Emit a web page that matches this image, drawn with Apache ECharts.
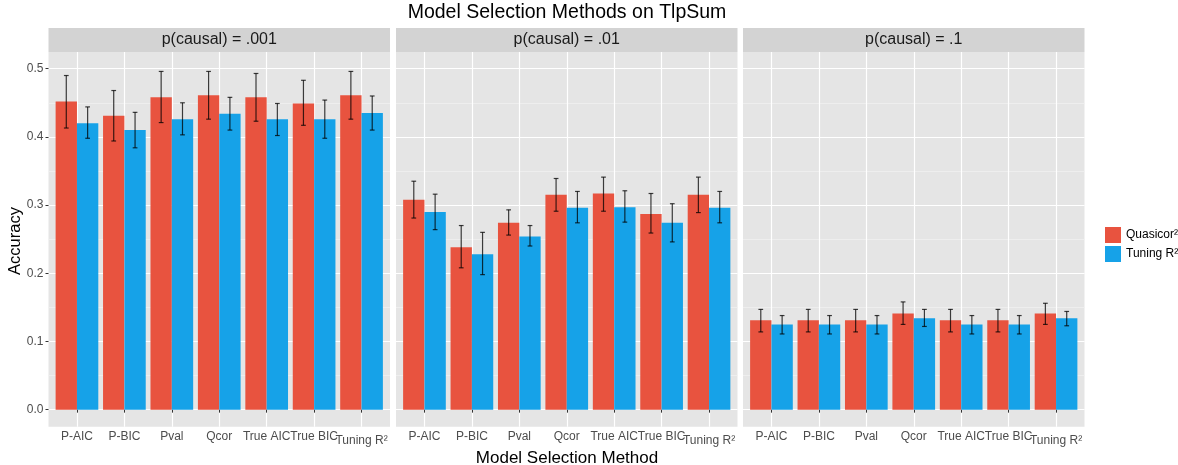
<!DOCTYPE html>
<html>
<head>
<meta charset="utf-8">
<script src="https://cdn.jsdelivr.net/npm/echarts@6/dist/echarts.min.js"></script>
<style>
  html, body { margin: 0; padding: 0; background: #fff; }
  #chart { width: 1178px; height: 465px; }
</style>
</head>
<body>
<div id="chart"></div>
<script>
// data
const categories = ['P-AIC', 'P-BIC', 'Pval', 'Qcor', 'True AIC', 'True BIC', 'Tuning R²']
const panelNames = ['p(causal) = .001', 'p(causal) = .01', 'p(causal) = .1']
const groupNames = ['Quasicor²', 'Tuning R²']

const quasiMean = [
    [0.452, 0.431, 0.458, 0.461, 0.458, 0.449, 0.461],
    [0.308, 0.238, 0.274, 0.315, 0.317, 0.287, 0.315],
    [0.131, 0.131, 0.131, 0.141, 0.131, 0.131, 0.141]
]
const quasiLow = [
    [0.413, 0.394, 0.421, 0.426, 0.423, 0.417, 0.426],
    [0.281, 0.208, 0.256, 0.291, 0.291, 0.259, 0.289],
    [0.114, 0.114, 0.114, 0.125, 0.114, 0.114, 0.125]
]
const quasiHigh = [
    [0.490, 0.468, 0.496, 0.496, 0.493, 0.483, 0.496],
    [0.335, 0.270, 0.293, 0.339, 0.341, 0.317, 0.341],
    [0.147, 0.147, 0.147, 0.158, 0.147, 0.147, 0.156]
]
const tuneMean = [
    [0.420, 0.410, 0.426, 0.434, 0.426, 0.426, 0.435],
    [0.290, 0.228, 0.254, 0.296, 0.297, 0.274, 0.296],
    [0.125, 0.125, 0.125, 0.134, 0.125, 0.125, 0.134]
]
const tuneLow = [
    [0.398, 0.384, 0.403, 0.410, 0.402, 0.398, 0.410],
    [0.264, 0.198, 0.240, 0.274, 0.275, 0.246, 0.274],
    [0.111, 0.111, 0.111, 0.122, 0.111, 0.111, 0.123]
]
const tuneHigh = [
    [0.444, 0.436, 0.450, 0.458, 0.449, 0.454, 0.460],
    [0.316, 0.260, 0.270, 0.320, 0.321, 0.302, 0.320],
    [0.138, 0.138, 0.138, 0.147, 0.138, 0.138, 0.144]
]
const yTicks = [0, 0.1, 0.2, 0.3, 0.4, 0.5]
const yMinorTicks = [0.05, 0.15, 0.25, 0.35, 0.45]

const FONT = 'Liberation Sans, Arial, sans-serif'
const RED = '#E8533F'
const BLUE = '#16A2E8'
const panelLeft = [48.5, 396, 743]
const panelWidth = 341.5
const panelTop = 52
const panelHeight = 374.7
const stripHeight = 24

const chart = echarts.init(document.getElementById('chart'))

const makeRenderer = (offset) => (params, api) => {
    const x = api.value(0) + offset
    const v = api.value(1)
    const topLeft = api.coord([x - 0.225, v])
    const botRight = api.coord([x + 0.225, 0])
    const cx = api.coord([x, 0])[0]
    const yHi = api.coord([x, api.value(3)])[1]
    const yLo = api.coord([x, api.value(2)])[1]
    const cap = api.size([0.1, 0])[0] / 2
    const errStyle = { stroke: 'rgba(0,0,0,0.75)', lineWidth: 1.2 }
    return {
        type: 'group',
        children: [
            {
                type: 'rect',
                shape: { x: topLeft[0], y: topLeft[1], width: botRight[0] - topLeft[0], height: botRight[1] - topLeft[1] },
                style: { fill: api.visual('color') }
            },
            { type: 'line', shape: { x1: cx, y1: yHi, x2: cx, y2: yLo }, style: errStyle },
            { type: 'line', shape: { x1: cx - cap, y1: yHi, x2: cx + cap, y2: yHi }, style: errStyle },
            { type: 'line', shape: { x1: cx - cap, y1: yLo, x2: cx + cap, y2: yLo }, style: errStyle }
        ]
    }
}

// labels split over two bottom axes so that touching labels are not dropped
const xLabel = (values) => ({
    customValues: values,
    hideOverlap: false,
    formatter: (v) => {
        const i = Math.round(v) - 1
        return i === 6 ? '{low|' + categories[i] + '}' : (categories[i] || '')
    },
    rich: { low: { padding: [4, 0, 0, 0], color: '#4D4D4D', fontSize: 12, fontFamily: FONT } },
    color: '#4D4D4D', fontSize: 12, fontFamily: FONT, margin: 4
})

const grids = [], xAxes = [], yAxes = [], series = [], graphics = []

panelNames.forEach((name, p) => {
    grids.push({
        left: panelLeft[p], top: panelTop, width: panelWidth, height: panelHeight,
        show: true, backgroundColor: '#E5E5E5', borderWidth: 0
    })
    xAxes.push({
        type: 'value', gridIndex: p, position: 'bottom', min: 0.4, max: 7.6,
        axisLine: { show: false },
        axisTick: { show: true, length: 3, customValues: [1, 2, 3, 4, 5, 6, 7], lineStyle: { color: '#333', width: 1 } },
        axisLabel: xLabel([1, 3, 5, 7]),
        splitLine: { show: true, lineStyle: { color: '#FFFFFF', width: 1.2 } }
    })
    xAxes.push({
        type: 'value', gridIndex: p, position: 'bottom', offset: 0, min: 0.4, max: 7.6,
        axisLine: { show: false },
        axisTick: { show: false },
        axisLabel: xLabel([2, 4, 6]),
        splitLine: { show: false }
    })
    // major grid + labels
    yAxes.push({
        type: 'value', gridIndex: p, min: -0.025, max: 0.5245,
        axisLine: { show: false },
        axisTick: { show: p === 0, length: 3, customValues: yTicks, lineStyle: { color: '#333', width: 1 } },
        axisLabel: {
            show: p === 0, customValues: yTicks,
            formatter: (v) => v.toFixed(1),
            color: '#4D4D4D', fontSize: 12, fontFamily: FONT, margin: 5
        },
        splitLine: { show: true, lineStyle: { color: '#FFFFFF', width: 1.2 } }
    })
    // minor grid
    yAxes.push({
        type: 'value', gridIndex: p, min: -0.025, max: 0.5245,
        axisLine: { show: false },
        axisTick: { show: false, customValues: yMinorTicks },
        axisLabel: { show: false, customValues: yMinorTicks },
        splitLine: { show: true, lineStyle: { color: '#F2F2F2', width: 0.7 } }
    })

    const toData = (mean, low, high) => mean[p].map((v, i) => [i + 1, v, low[p][i], high[p][i]])
    series.push({
        name: groupNames[0], type: 'custom', xAxisIndex: p * 2, yAxisIndex: p * 2,
        itemStyle: { color: RED },
        renderItem: makeRenderer(-0.225),
        encode: { x: 0, y: 1 },
        data: toData(quasiMean, quasiLow, quasiHigh),
        z: 3
    })
    series.push({
        name: groupNames[1], type: 'custom', xAxisIndex: p * 2, yAxisIndex: p * 2,
        itemStyle: { color: BLUE },
        renderItem: makeRenderer(0.225),
        encode: { x: 0, y: 1 },
        data: toData(tuneMean, tuneLow, tuneHigh),
        z: 3
    })

    // facet strip
    graphics.push({
        type: 'rect',
        shape: { x: panelLeft[p], y: panelTop - stripHeight, width: panelWidth, height: stripHeight },
        style: { fill: '#D3D3D3' }
    })
    graphics.push({
        type: 'text',
        x: panelLeft[p] + panelWidth / 2, y: panelTop - stripHeight / 2,
        style: { text: name, fill: '#1A1A1A', font: '16px ' + FONT, textAlign: 'center', textVerticalAlign: 'middle' }
    })
})

graphics.push({
    type: 'text', x: 567, y: 13,
    style: { text: 'Model Selection Methods on TlpSum', fill: '#000', font: '19.5px ' + FONT, textAlign: 'center', textVerticalAlign: 'middle' }
})
graphics.push({
    type: 'text', x: 567, y: 458,
    style: { text: 'Model Selection Method', fill: '#000', font: '17px ' + FONT, textAlign: 'center', textVerticalAlign: 'middle' }
})
graphics.push({
    type: 'text', x: 15.5, y: 241, rotation: Math.PI / 2,
    style: { text: 'Accuracy', fill: '#000', font: '16.5px ' + FONT, textAlign: 'center', textVerticalAlign: 'middle' }
})

chart.setOption({
    animation: false,
    backgroundColor: '#FFFFFF',
    grid: grids,
    xAxis: xAxes,
    yAxis: yAxes,
    series: series,
    legend: {
        data: groupNames.map((n) => ({ name: n, icon: 'rect' })),
        orient: 'vertical', left: 1100, top: 222,
        itemWidth: 16, itemHeight: 16, itemGap: 3,
        textStyle: { color: '#000', fontSize: 12, fontFamily: FONT }
    },
    graphic: graphics
})

window.addEventListener('resize', () => chart.resize())
</script>
</body>
</html>
